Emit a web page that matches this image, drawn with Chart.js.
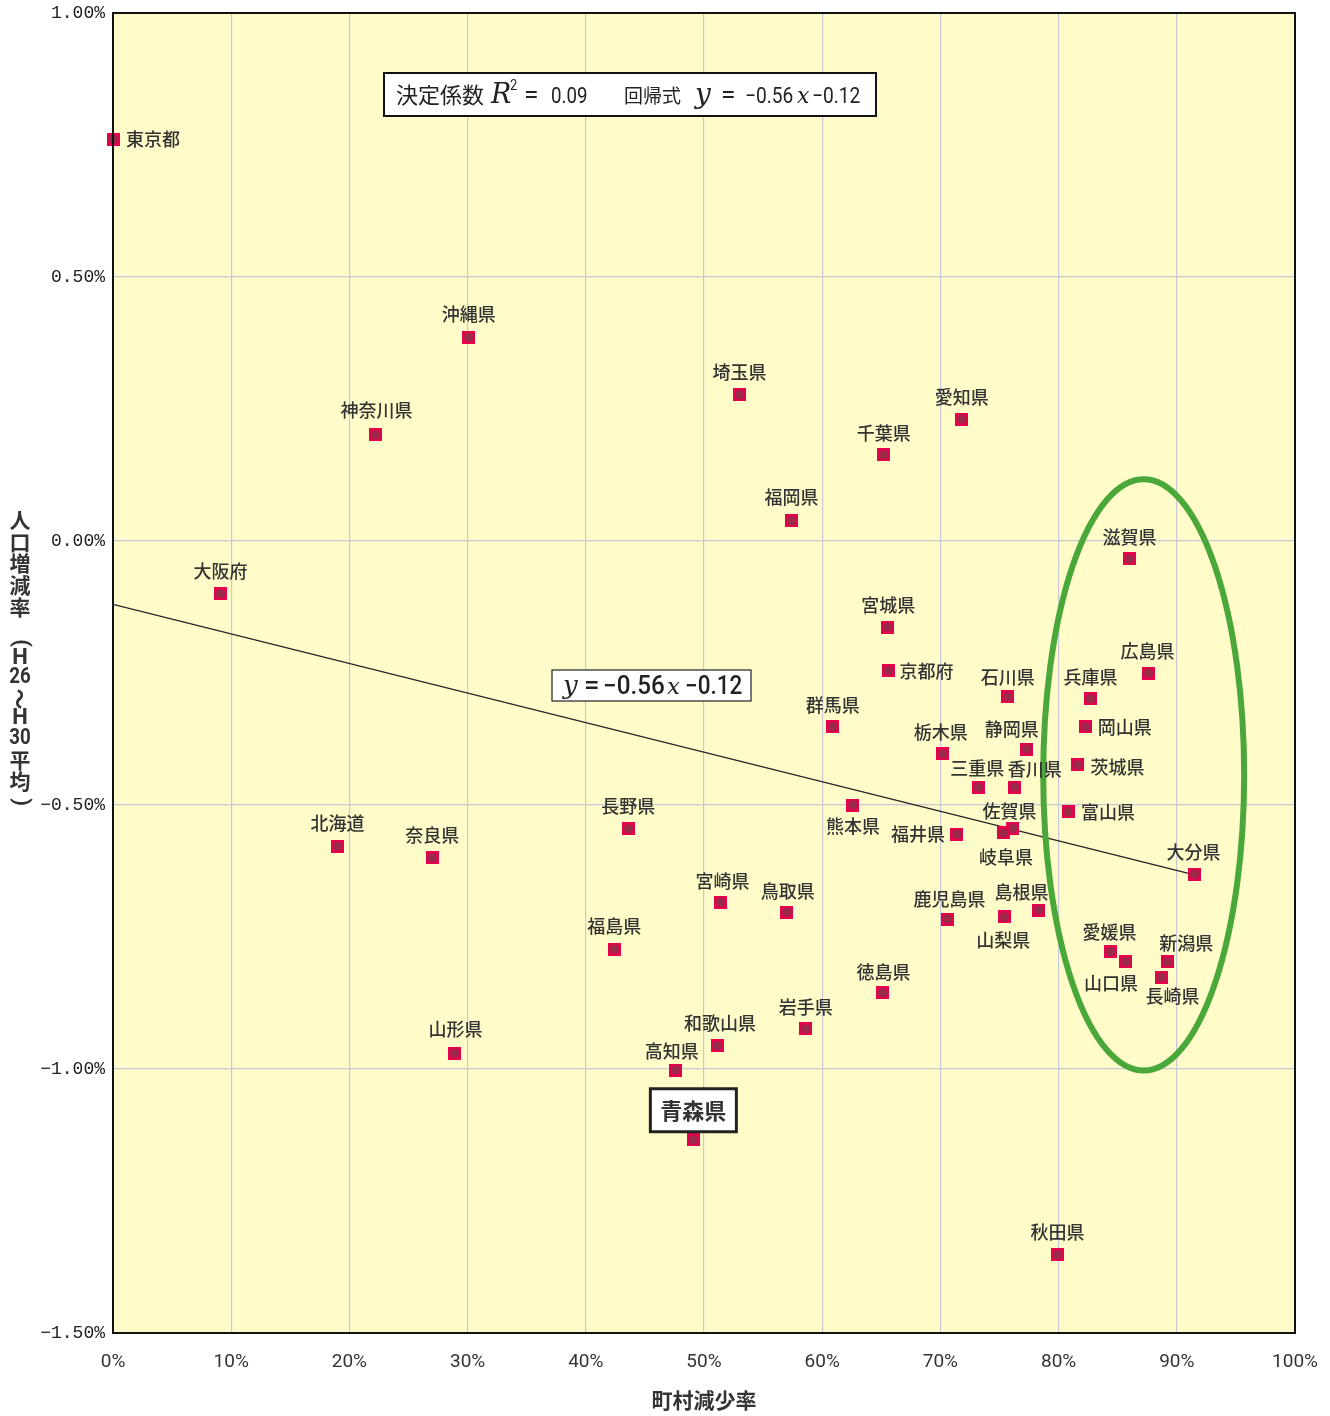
<!DOCTYPE html>
<html lang="ja">
<head>
<meta charset="utf-8">
<title>町村減少率と人口増減率</title>
<script src="https://cdn.jsdelivr.net/npm/chart.js@4/dist/chart.umd.min.js"></script>
<style>
  html, body { margin: 0; padding: 0; background: #fff; }
  #wrap { width: 1330px; height: 1416px; }
</style>
</head>
<body>
<div id="wrap"><canvas id="scatterChart" width="1330" height="1416"></canvas></div>
<script>
/* ── データ ── */
const prefs = ['東京都','沖縄県','神奈川県','埼玉県','愛知県','千葉県','福岡県','滋賀県','大阪府','宮城県',
  '京都府','広島県','石川県','兵庫県','群馬県','岡山県','栃木県','静岡県','茨城県','三重県',
  '香川県','熊本県','富山県','長野県','佐賀県','岐阜県','福井県','北海道','奈良県','大分県',
  '宮崎県','鳥取県','島根県','鹿児島県','山梨県','福島県','愛媛県','新潟県','山口県','長崎県',
  '徳島県','岩手県','和歌山県','山形県','高知県','青森県','秋田県'];

// 町村減少率 (%)
const townDecline = [0.0, 30.1, 22.2, 53.0, 71.8, 65.2, 57.4, 86.0, 9.1, 65.5,
  65.6, 87.6, 75.7, 82.7, 60.9, 82.3, 70.2, 77.3, 81.6, 73.2,
  76.3, 62.6, 80.8, 43.6, 76.1, 75.3, 71.4, 19.0, 27.0, 91.5,
  51.4, 57.0, 78.3, 70.6, 75.4, 42.4, 84.4, 89.2, 85.7, 88.7,
  65.1, 58.6, 51.1, 28.9, 47.6, 49.1, 79.9];

// 人口増減率 H26～H30平均 (%)
const popChange = [0.761, 0.386, 0.201, 0.277, 0.231, 0.163, 0.038, -0.034, -0.100, -0.163,
  -0.246, -0.250, -0.295, -0.299, -0.352, -0.352, -0.403, -0.394, -0.424, -0.466,
  -0.466, -0.500, -0.513, -0.545, -0.544, -0.553, -0.555, -0.578, -0.600, -0.631,
  -0.684, -0.703, -0.699, -0.716, -0.712, -0.773, -0.778, -0.797, -0.797, -0.826,
  -0.856, -0.924, -0.956, -0.970, -1.002, -1.134, -1.352];

const xTicks = [0, 10, 20, 30, 40, 50, 60, 70, 80, 90, 100];
const yTicks = [-1.5, -1.0, -0.5, 0.0, 0.5, 1.0];

// 回帰式 y = -0.56x - 0.12 (x は割合)
const slope = -0.56;
const intercept = -0.12;
const r2 = 0.09;

/* ── ラベル配置 [dx, dy, align] ── */
const labelPos = {
  '東京都':[13,0,'left'], '京都府':[11,0,'left'], '岡山県':[12,0,'left'], '茨城県':[13,2,'left'],
  '富山県':[13,0,'left'], '福井県':[-12,0,'right'],
  '神奈川県':[1,-25], '静岡県':[-15,-20], '香川県':[20,-18], '熊本県':[0,21],
  '佐賀県':[-3,-17], '岐阜県':[3,24], '宮崎県':[2,-21], '鳥取県':[1,-21], '島根県':[-17,-18],
  '鹿児島県':[2,-20], '山梨県':[-1,23], '愛媛県':[-1,-20], '新潟県':[19,-19], '山口県':[-15,21],
  '長崎県':[11,19], '和歌山県':[3,-23], '高知県':[-4,-19], '三重県':[-1,-19], '石川県':[0,-20],
  '徳島県':[1,-21], '愛知県':[0,-22], '千葉県':[0,-22], '滋賀県':[0,-22], '広島県':[-1,-22],
  '兵庫県':[0,-22], '群馬県':[0,-22], '栃木県':[-2,-22], '大分県':[-1,-22], '岩手県':[0,-22],
  '宮城県':[1,-22], '福岡県':[0,-24], '山形県':[1,-24]
};

const FONT_JP = '"Noto Sans CJK JP", "Noto Sans", sans-serif';
const FONT_NUM = 'Roboto, "Liberation Sans", sans-serif';
const FONT_MONO = '"Liberation Mono", "DejaVu Sans Mono", monospace';

/* マーカー: 赤い四角に暗い丸 */
function makeMarker() {
  const c = document.createElement('canvas');
  c.width = 13; c.height = 13;
  const g = c.getContext('2d');
  g.fillStyle = '#e6004e';
  g.fillRect(0, 0, 13, 13);
  g.fillStyle = '#9a2a47';
  g.beginPath(); g.arc(6.5, 6.5, 4.6, 0, Math.PI * 2); g.fill();
  return c;
}

/* 横に詰めた文字 */
function cText(ctx, text, x, y, font, sx) {
  ctx.save();
  ctx.translate(x, y);
  ctx.scale(sx, 1);
  ctx.font = font;
  ctx.fillText(text, 0, 0);
  ctx.restore();
}

const points = prefs.map((p, i) => ({ x: townDecline[i], y: popChange[i] }));
const maxX = Math.max(...townDecline);
const trend = [0, maxX].map(x => ({ x, y: slope * x / 100 + intercept }));

/* 背景・枠・注記を描くプラグイン */
const decor = {
  id: 'decor',
  beforeDraw(chart) {
    const { ctx, chartArea: a } = chart;
    ctx.save();
    ctx.fillStyle = '#fffcc9';
    ctx.fillRect(a.left, a.top, a.right - a.left, a.bottom - a.top);
    ctx.restore();
  },
  afterDatasetsDraw(chart) {
    const { ctx, chartArea: a, scales: { x, y } } = chart;
    ctx.save();

    // 外枠
    ctx.strokeStyle = '#111';
    ctx.lineWidth = 2;
    ctx.strokeRect(a.left, a.top, a.right - a.left, a.bottom - a.top);

    // 緑の楕円
    const cx = x.getPixelForValue(87.2), cy = y.getPixelForValue(-0.443);
    const rx = x.getPixelForValue(87.2 + 8.5) - cx;
    const ry = y.getPixelForValue(-0.443 - 0.56) - cy;
    ctx.strokeStyle = '#4aa83a';
    ctx.lineWidth = 6;
    ctx.beginPath();
    ctx.ellipse(cx, cy, rx, ry, 0, 0, Math.PI * 2);
    ctx.stroke();

    // 都道府県ラベル
    ctx.fillStyle = '#333';
    ctx.font = '500 18px ' + FONT_JP;
    ctx.textBaseline = 'middle';
    prefs.forEach((p, i) => {
      if (p === '青森県') return;
      const px = x.getPixelForValue(townDecline[i]);
      const py = y.getPixelForValue(popChange[i]);
      const [dx, dy, al] = labelPos[p] || [0, -23];
      ctx.textAlign = al || 'center';
      ctx.fillText(p, px + dx, py + dy);
    });

    // 青森県 (枠付き)
    const ai = prefs.indexOf('青森県');
    const ax = x.getPixelForValue(townDecline[ai]);
    const ay = y.getPixelForValue(popChange[ai]) - 30;
    ctx.fillStyle = '#fff';
    ctx.fillRect(ax - 43, ay - 21, 86, 43);
    ctx.strokeStyle = '#222';
    ctx.lineWidth = 3;
    ctx.strokeRect(ax - 43, ay - 21, 86, 43);
    ctx.fillStyle = '#333';
    ctx.font = 'bold 22px ' + FONT_JP;
    ctx.textAlign = 'center';
    ctx.fillText('青森県', ax, ay + 1);

    // 回帰式ボックス (上部)
    ctx.fillStyle = '#fff';
    ctx.fillRect(384, 73, 492, 43);
    ctx.strokeStyle = '#111';
    ctx.lineWidth = 2;
    ctx.strokeRect(384, 73, 492, 43);
    ctx.fillStyle = '#222';
    ctx.textAlign = 'left';
    ctx.textBaseline = 'alphabetic';
    const base = 103;
    ctx.font = '22px ' + FONT_JP;
    ctx.fillText('決定係数', 396, base);
    ctx.font = 'italic 27px "DejaVu Serif", serif';
    ctx.fillText('R', 491, base);
    cText(ctx, '2', 510, base - 13, '15px ' + FONT_NUM, 0.85);
    cText(ctx, '=', 524, base, '24px ' + FONT_NUM, 1.1);
    cText(ctx, r2.toFixed(2), 551, base, '22px ' + FONT_NUM, 0.85);
    ctx.font = '19px ' + FONT_JP;
    ctx.fillText('回帰式', 624, base);
    ctx.font = 'italic 28px "DejaVu Serif", serif';
    ctx.fillText('y', 695, base);
    cText(ctx, '=', 721, base, '24px ' + FONT_NUM, 1.1);
    cText(ctx, '−' + Math.abs(slope).toFixed(2), 745, base, '22px ' + FONT_NUM, 0.87);
    ctx.font = 'italic 22px "DejaVu Serif", serif';
    ctx.fillText('x', 797, base);
    cText(ctx, '−' + Math.abs(intercept).toFixed(2), 812, base, '22px ' + FONT_NUM, 0.87);

    // 回帰線ラベル
    ctx.fillStyle = '#fff';
    ctx.fillRect(552, 670, 199, 31);
    ctx.strokeStyle = '#222';
    ctx.lineWidth = 1.2;
    ctx.strokeRect(552, 670, 199, 31);
    ctx.fillStyle = '#222';
    const b2 = 694;
    ctx.font = 'italic 26px "DejaVu Serif", serif';
    ctx.fillText('y', 563, b2);
    cText(ctx, '=', 584, b2, '500 25px ' + FONT_NUM, 1.1);
    cText(ctx, '−' + Math.abs(slope).toFixed(2), 603, b2, '500 25px ' + FONT_NUM, 0.97);
    ctx.font = 'italic 23px "DejaVu Serif", serif';
    ctx.fillText('x', 667, b2);
    cText(ctx, '−' + Math.abs(intercept).toFixed(2), 685, b2, '500 25px ' + FONT_NUM, 0.9);

    // 軸タイトル
    ctx.fillStyle = '#333';
    ctx.font = 'bold 21px ' + FONT_JP;
    ctx.textAlign = 'center';
    ctx.textBaseline = 'middle';
    ctx.fillText('町村減少率', (a.left + a.right) / 2, 1400);

    const vChars = [['人',520],['口',542],['増',563],['減',585],['率',607],['(',643,true],['H',658],
      ['26',677],['～',699,true],['H',718],['30',738],['平',760],['均',781],[')',802,true]];
    vChars.forEach(([c, cy2, rot]) => {
      ctx.save();
      ctx.translate(20, cy2);
      if (rot) ctx.rotate(Math.PI / 2);
      const num = (c === '26' || c === '30' || c === 'H' || c === '(' || c === ')');
      ctx.font = num ? 'bold 22px ' + FONT_NUM : 'bold 21px ' + FONT_JP;
      if (c === '26' || c === '30') ctx.scale(0.85, 1);
      ctx.fillText(c, 0, 0);
      ctx.restore();
    });
    ctx.restore();
  }
};

new Chart(document.getElementById('scatterChart'), {
  type: 'scatter',
  data: {
    datasets: [{
      label: '都道府県',
      data: points,
      pointStyle: makeMarker(),
      pointRadius: 6.5,
      clip: false
    }, {
      type: 'line',
      label: '回帰線',
      data: trend,
      borderColor: '#222',
      borderWidth: 1.2,
      pointRadius: 0,
      fill: false
    }]
  },
  options: {
    responsive: false,
    animation: false,
    layout: { padding: { top: 13, right: 35, left: 0, bottom: 0 } },
    plugins: { legend: { display: false }, tooltip: { enabled: false } },
    scales: {
      x: {
        type: 'linear', min: 0, max: 100,
        afterBuildTicks: s => { s.ticks = xTicks.map(v => ({ value: v })); },
        afterFit: s => { s.height = 83; s.paddingLeft = 0; s.paddingRight = 0; },
        grid: { color: '#c9c9d6', lineWidth: 1.2, drawTicks: false },
        border: { display: false },
        ticks: { padding: 18, color: '#333', font: { family: FONT_NUM, size: 19 }, callback: v => v + '%' }
      },
      y: {
        min: -1.5, max: 1.0,
        afterBuildTicks: s => { s.ticks = yTicks.map(v => ({ value: v })); },
        afterFit: s => { s.width = 113; s.paddingTop = 0; s.paddingBottom = 0; },
        grid: { color: '#c9c9d6', lineWidth: 1.2, drawTicks: false },
        border: { display: false },
        ticks: { padding: 8, color: '#222', font: { family: FONT_MONO, size: 18 },
          callback: v => (v < 0 ? '−' : '') + Math.abs(v).toFixed(2) + '%' }
      }
    }
  },
  plugins: [decor]
});
</script>
</body>
</html>
